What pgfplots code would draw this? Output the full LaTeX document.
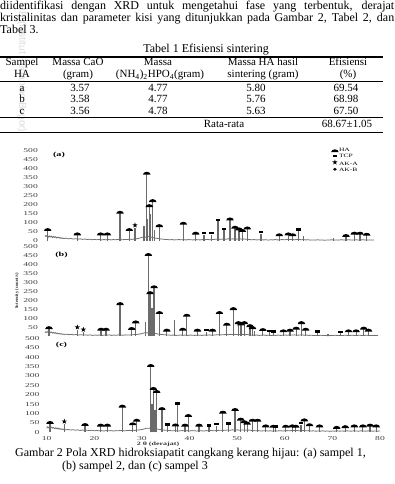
\documentclass[border=0pt]{standalone}
\usepackage{pgfplots}
\pgfplotsset{compat=1.18}
\usepackage{fontspec}
\setmainfont{Liberation Serif}
\setsansfont{Liberation Sans}
\usepackage{graphicx}

\newcommand{\body}{\fontsize{12bp}{14bp}\selectfont}
\newcommand{\tbl}{\fontsize{11bp}{13bp}\selectfont}
\newcommand{\tickfont}{\fontsize{6bp}{6bp}\selectfont}
\newcommand{\sx}[1]{\scalebox{1.6}[1]{#1}}

\pgfdeclareplotmark{dome}{%
  \pgfpathmoveto{\pgfpoint{-3.8bp}{-0.6bp}}%
  \pgfpatharc{180}{0}{3.8bp and 2.9bp}%
  \pgfpathclose
  \pgfusepathqfill}
\pgfdeclareplotmark{tcp}{%
  \pgfpathrectangle{\pgfpoint{-2.4bp}{0.4bp}}{\pgfpoint{4.8bp}{2.4bp}}%
  \pgfusepathqfill}
\pgfdeclareplotmark{akastar}{%
  \pgfpathmoveto{\pgfpoint{0bp}{5.6bp}}%
  \pgfpathlineto{\pgfpoint{-0.65bp}{3.69bp}}%
  \pgfpathlineto{\pgfpoint{-2.66bp}{3.67bp}}%
  \pgfpathlineto{\pgfpoint{-1.05bp}{2.46bp}}%
  \pgfpathlineto{\pgfpoint{-1.65bp}{0.54bp}}%
  \pgfpathlineto{\pgfpoint{0bp}{1.7bp}}%
  \pgfpathlineto{\pgfpoint{1.65bp}{0.54bp}}%
  \pgfpathlineto{\pgfpoint{1.05bp}{2.46bp}}%
  \pgfpathlineto{\pgfpoint{2.66bp}{3.67bp}}%
  \pgfpathlineto{\pgfpoint{0.65bp}{3.69bp}}%
  \pgfpathclose
  \pgfusepathqfill}
\pgfdeclareplotmark{akb}{%
  \pgfpathellipse{\pgfpoint{0bp}{1.5bp}}{\pgfpoint{1.9bp}{0bp}}{\pgfpoint{0bp}{1.5bp}}%
  \pgfusepathqfill}

\pgfplotsset{
  xrd/.style={
    scale only axis, enlargelimits=false, clip=false,
    xmin=10, xmax=80, ymin=0, ymax=500,
    axis line style={draw=none}, major tick length=0pt,
    xtick=\empty, ytick={0,50,...,500},
    yticklabel style={font=\tickfont, text=black!75, anchor=east, inner sep=0pt, xshift=-7bp},
    yticklabel={\sx{\pgfmathprintnumber[fixed,precision=0,assume math mode=true]{\tick}}},
    anchor=south west,
  },
  base/.style={black!55, line width=0.8bp, no marks, forget plot},
  spk/.style={ycomb, black!58, line width=1.2bp, no marks, forget plot},
}

\begin{document}
\begin{tikzpicture}
\begin{scope}[x=1bp,y=-1bp]
\fill[white] (0,0) rectangle (394,484);
\path[use as bounding box] (0,0) rectangle (394,484);
% watermark
\node[rotate=-90, anchor=west, text=black!14, font=\sffamily\fontsize{10bp}{10bp}\selectfont, inner sep=0pt] at (22,2) {IPB (Institut Pertanian Bogor)};
% paragraph
\node[anchor=base west, inner sep=0pt, font=\body] at (0,9.5) {\makebox[394bp][s]{diidentifikasi dengan XRD untuk mengetahui fase yang terbentuk, derajat}};
\node[anchor=base west, inner sep=0pt, font=\body] at (0,22) {\makebox[394bp][s]{kristalinitas dan parameter kisi yang ditunjukkan pada Gambar 2, Tabel 2, dan}};
\node[anchor=base west, inner sep=0pt, font=\body] at (0,33.8) {Tabel 3.};
% table
\node[anchor=base, inner sep=0pt, font=\body] at (206,53) {Tabel 1 Efisiensi sintering};
\draw[line width=1.1bp] (0,57) -- (383,57);
\draw[line width=0.6bp] (0,81.7) -- (383,81.7);
\draw[line width=0.6bp] (0,117.7) -- (383,117.7);
\draw[line width=1.1bp] (0,132.3) -- (383,132.3);
\begin{scope}[every node/.style={anchor=base, inner sep=0pt, font=\tbl}]
\node at (22,66) {Sampel};
\node at (78,66) {Massa CaO};
\node at (158,66) {Massa};
\node at (263,66) {Massa HA hasil};
\node at (348,66) {Efisiensi};
\node at (22,77.5) {HA};
\node at (78,77.5) {(gram)};
\node at (160,77.5) {(NH\textsubscript{4})\textsubscript{2}HPO\textsubscript{4}(gram)};
\node at (263,77.5) {sintering (gram)};
\node at (348,77.5) {(\%)};
\node at (22,91.3) {a}; \node at (80,91.3) {3.57}; \node at (158,91.3) {4.77}; \node at (256,91.3) {5.80}; \node at (346,91.3) {69.54};
\node at (22,102.9) {b}; \node at (80,102.9) {3.58}; \node at (158,102.9) {4.77}; \node at (256,102.9) {5.76}; \node at (346,102.9) {68.98};
\node at (22,114.6) {c}; \node at (80,114.6) {3.56}; \node at (158,114.6) {4.78}; \node at (256,114.6) {5.63}; \node at (346,114.6) {67.50};
\node at (224,128) {Rata-rata}; \node at (347,128) {68.67±1.05};
\end{scope}
% caption
\node[anchor=base west, inner sep=0pt, font=\body] at (15,456.7) {Gambar 2 Pola XRD hidroksiapatit cangkang kerang hijau: (a) sampel 1,};
\node[anchor=base west, inner sep=0pt, font=\body] at (62,469) {(b) sampel 2, dan (c) sampel 3};
% chart labels
\node[font=\bfseries\fontsize{6.3bp}{6.3bp}\selectfont, inner sep=0pt] at (59,155) {\sx{(a)}};
\node[font=\bfseries\fontsize{6.3bp}{6.3bp}\selectfont, inner sep=0pt] at (61.5,255) {\sx{(b)}};
\node[font=\bfseries\fontsize{6.3bp}{6.3bp}\selectfont, inner sep=0pt] at (61.5,345) {\sx{(c)}};
\node[rotate=90, font=\bfseries\fontsize{4.6bp}{4.6bp}\selectfont, inner sep=0pt, text=black!80] at (17,291) {Intensity (count/s)};
\node[font=\bfseries\fontsize{5bp}{5bp}\selectfont, inner sep=0pt, text=black!80] at (158,444) {\sx{2 θ (derajat)}};
\end{scope}

% ---------------- panel (a) ----------------
\begin{axis}[xrd, at={(45bp,-241bp)}, width=329bp, height=90bp,
  legend style={at={(0.869,1.035)}, anchor=north west, draw=none, fill=none,
    font=\fontsize{5bp}{5bp}\selectfont, inner sep=0pt, row sep=1.6bp,
    nodes={inner sep=0.3bp, text height=3.5bp, text depth=0bp}},
  legend cell align=left,
  legend image code/.code={\draw[#1] plot coordinates {(0bp,-1.5bp)};}]
\addplot[base] coordinates {(10.0,24)(10.2,31)(10.4,25)(10.6,29)(10.8,21)(11.0,28)(11.2,22)(11.4,27)(11.6,19)(11.8,25)(12.0,20)(12.2,24)(12.4,17)(12.6,22)(12.8,18)(13.0,21)(13.2,15)(13.4,19)(13.6,14)(13.8,17)(14.0,13)(14.5,16)(15.0,12)(15.5,14)(16.0,11)(16.5,13)(17.0,10)(17.5,12)(18.0,9)(18.5,11)(19.0,8)(19.5,10)(20.0,7)(20.5,9)(21.0,7)(21.5,9)(22.0,6)(22.5,8)(23.0,7)(23.5,9)(24.0,6)(24.5,8)(25.0,7)(25.5,9)(26.0,8)(26.5,7)(27.0,9)(27.5,8)(28.0,10)(28.5,9)(29.0,11)(29.5,12)(30.0,15)(30.5,19)(31.0,23)(31.5,21)(32.0,26)(32.5,22)(33.0,19)(33.5,16)(34.0,14)(34.5,12)(35.0,10)(35.5,9)(36.0,8)(36.5,7)(37.0,8)(37.5,6)(38.0,7)(38.5,8)(39.0,7)(39.5,8)(40.0,6)(40.5,8)(41.0,7)(41.5,6)(42.0,8)(42.5,7)(43.0,6)(43.5,8)(44.0,7)(44.5,9)(45.0,7)(45.5,8)(46.0,9)(46.5,10)(47.0,9)(47.5,10)(48.0,11)(48.5,10)(49.0,12)(49.5,11)(50.0,12)(50.5,10)(51.0,11)(51.5,12)(52.0,10)(52.5,11)(53.0,9)(53.5,8)(54.0,7)(54.5,8)(55.0,6)(55.5,7)(56.0,8)(56.5,6)(57.0,7)(57.5,5)(58.0,7)(58.5,6)(59.0,8)(59.5,6)(60.0,7)(60.5,8)(61.0,7)(61.5,9)(62.0,8)(62.5,9)(63.0,7)(63.5,8)(64.0,9)(64.5,7)(65.0,8)(65.5,6)(66.0,7)(66.5,5)(67.0,6)(67.5,5)(68.0,7)(68.5,5)(69.0,6)(69.5,4)(70.0,6)(70.5,5)(71.0,7)(71.5,5)(72.0,6)(72.5,5)(73.0,7)(73.5,6)(74.0,5)(74.5,7)(75.0,6)(75.5,5)(76.0,7)(76.5,6)(77.0,5)(77.5,7)(78.0,6)(78.5,5)(79.0,6)(79.5,5)(80.0,6)};
\addplot[spk] coordinates {(10.57,59)(16.87,35)(21.85,35)(23.26,35)(25.96,155)(27.94,59)(29.15,72)(31.06,83)(31.64,372)(31.85,120)(32.19,192)(32.5,150)(32.91,220)(33.3,60)(34.32,81)(39.43,94)(42.06,39)(43.83,35)(45.38,35)(46.81,109)(48.09,59)(49.36,118)(50.43,72)(51.28,63)(51.98,54)(53.04,68)(55.96,41)(59.85,30)(61.77,35)(62.70,30)(63.98,54)(64.96,26)(71.34,17)(74.04,26)(75.81,39)(77.02,39)(78.45,33)};
\addplot[only marks, mark=dome, black] coordinates {(10.57,59)(16.87,35)(21.85,35)(23.26,35)(25.96,155)(27.94,59)(31.64,372)(32.19,192)(32.91,220)(34.32,81)(39.43,94)(42.06,39)(49.36,118)(50.43,72)(51.28,63)(51.98,54)(53.04,68)(59.85,30)(61.77,35)(62.70,30)(74.04,26)(75.81,39)(77.02,39)(78.45,33)};
\addplot[only marks, mark=tcp, black] coordinates {(43.83,35)(45.38,35)(46.81,109)(48.09,59)(55.96,41)(63.98,54)};
\addplot[only marks, mark=akastar, black] coordinates {(29.15,72)};
\addlegendimage{only marks, mark=akb, black}
\legend{\scalebox{1.5}[1]{HA},\scalebox{1.5}[1]{TCP},\scalebox{1.5}[1]{AK-A},\scalebox{1.5}[1]{AK-B}}
\end{axis}

% ---------------- panel (b) ----------------
\begin{axis}[xrd, at={(45bp,-336.3bp)}, width=333bp, height=89.6bp, ytick={50,100,...,500}]
\addplot[base] coordinates {(10.0,20)(10.2,26)(10.4,21)(10.6,27)(10.8,22)(11.0,26)(11.2,20)(11.4,24)(11.6,18)(11.8,22)(12.0,17)(12.2,20)(12.4,15)(12.6,18)(12.8,14)(13.0,16)(13.2,12)(13.4,15)(13.6,11)(13.8,13)(14.0,10)(14.5,12)(15.0,9)(15.5,11)(16.0,8)(16.5,10)(17.0,7)(17.5,9)(18.0,7)(18.5,8)(19.0,6)(19.5,8)(20.0,5)(20.5,7)(21.0,6)(21.5,7)(22.0,5)(22.5,7)(23.0,6)(23.5,8)(24.0,5)(24.5,7)(25.0,6)(25.5,8)(26.0,7)(26.5,6)(27.0,8)(27.5,7)(28.0,8)(28.5,9)(29.0,10)(29.5,11)(30.0,13)(30.5,16)(31.0,20)(31.5,19)(32.0,22)(32.5,20)(33.0,17)(33.5,14)(34.0,12)(34.5,10)(35.0,9)(35.5,8)(36.0,7)(36.5,6)(37.0,7)(37.5,5)(38.0,6)(38.5,7)(39.0,6)(39.5,7)(40.0,5)(40.5,7)(41.0,6)(41.5,5)(42.0,7)(42.5,6)(43.0,5)(43.5,7)(44.0,6)(44.5,8)(45.0,6)(45.5,7)(46.0,8)(46.5,9)(47.0,8)(47.5,9)(48.0,10)(48.5,9)(49.0,11)(49.5,10)(50.0,11)(50.5,9)(51.0,10)(51.5,11)(52.0,9)(52.5,10)(53.0,8)(53.5,7)(54.0,6)(54.5,7)(55.0,5)(55.5,6)(56.0,7)(56.5,5)(57.0,6)(57.5,4)(58.0,6)(58.5,5)(59.0,7)(59.5,5)(60.0,6)(60.5,7)(61.0,6)(61.5,8)(62.0,7)(62.5,8)(63.0,6)(63.5,7)(64.0,8)(64.5,6)(65.0,7)(65.5,5)(66.0,6)(66.5,4)(67.0,5)(67.5,4)(68.0,6)(68.5,4)(69.0,5)(69.5,3)(70.0,5)(70.5,4)(71.0,6)(71.5,4)(72.0,5)(72.5,4)(73.0,6)(73.5,5)(74.0,4)(74.5,6)(75.0,5)(75.5,4)(76.0,6)(76.5,5)(77.0,4)(77.5,6)(78.0,5)(78.5,4)(79.0,5)(79.5,4)(80.0,5)};
\addplot[spk] coordinates {(10.84,44)(16.8,35)(18.06,22)(21.78,35)(22.83,35)(25.78,178)(28.23,39)(29.07,76)(31.2,80)(31.73,452)(32.09,239)(32.5,160)(32.93,272)(34.05,128)(35.6,30)(37.2,91)(38.96,35)(39.8,113)(42.04,30)(43.87,25)(45.2,30)(46.67,128)(48.22,63)(49.6,150)(50.67,72)(51.2,65)(51.9,72)(53.1,55)(53.6,44)(54.0,30)(55.8,33)(57.2,22)(58.0,18)(60.1,26)(61.5,30)(62.8,41)(63.9,72)(64.8,35)(67.2,18)(69.5,12)(72.1,16)(73.8,26)(75.4,26)(77.0,41)(78.0,30)};
\addplot[only marks, mark=dome, black] coordinates {(10.84,44)(21.78,35)(22.83,35)(25.78,178)(28.23,39)(29.07,76)(31.73,452)(32.09,239)(32.93,272)(34.05,128)(35.6,30)(38.96,35)(39.8,113)(42.04,30)(45.2,30)(46.67,128)(48.22,63)(49.6,150)(50.67,72)(51.2,65)(51.9,72)(53.1,55)(53.6,44)(55.8,33)(60.1,26)(61.5,30)(62.8,41)(63.9,72)(64.8,35)(73.8,26)(75.4,26)(77.0,41)(78.0,30)};
\addplot[only marks, mark=tcp, black] coordinates {(43.87,25)(57.2,22)(58.0,18)(67.2,18)(72.1,16)};
\addplot[only marks, mark=akastar, black] coordinates {(16.8,35)(18.06,22)};
\end{axis}

% ---------------- panel (c) ----------------
\begin{axis}[xrd, at={(46.7bp,-432.3bp)}, width=333.3bp, height=94bp,
  xtick={10,20,...,80},
  xticklabel style={font=\tickfont, text=black!75, anchor=north, inner sep=0pt, yshift=-3.5bp},
  xticklabel={\sx{\pgfmathprintnumber[fixed,precision=0,assume math mode=true]{\tick}}}]
\addplot[base] coordinates {(10.0,22)(10.2,29)(10.4,24)(10.6,30)(10.8,25)(11.0,28)(11.2,22)(11.4,26)(11.6,20)(11.8,24)(12.0,19)(12.2,23)(12.4,18)(12.6,21)(12.8,16)(13.0,19)(13.2,15)(13.4,18)(13.6,14)(13.8,16)(14.0,13)(14.5,15)(15.0,12)(15.5,14)(16.0,11)(16.5,13)(17.0,10)(17.5,12)(18.0,10)(18.5,11)(19.0,9)(19.5,11)(20.0,8)(20.5,10)(21.0,8)(21.5,9)(22.0,7)(22.5,9)(23.0,8)(23.5,9)(24.0,7)(24.5,9)(25.0,8)(25.5,10)(26.0,9)(26.5,8)(27.0,10)(27.5,9)(28.0,11)(28.5,10)(29.0,12)(29.5,13)(30.0,15)(30.5,18)(31.0,22)(31.5,21)(32.0,25)(32.5,22)(33.0,19)(33.5,16)(34.0,14)(34.5,12)(35.0,11)(35.5,10)(36.0,9)(36.5,8)(37.0,9)(37.5,7)(38.0,8)(38.5,9)(39.0,8)(39.5,9)(40.0,7)(40.5,9)(41.0,8)(41.5,7)(42.0,9)(42.5,8)(43.0,7)(43.5,9)(44.0,8)(44.5,10)(45.0,8)(45.5,9)(46.0,10)(46.5,11)(47.0,10)(47.5,11)(48.0,12)(48.5,11)(49.0,13)(49.5,12)(50.0,13)(50.5,11)(51.0,12)(51.5,13)(52.0,11)(52.5,12)(53.0,10)(53.5,9)(54.0,8)(54.5,9)(55.0,7)(55.5,8)(56.0,9)(56.5,7)(57.0,8)(57.5,6)(58.0,8)(58.5,7)(59.0,9)(59.5,7)(60.0,8)(60.5,9)(61.0,8)(61.5,10)(62.0,9)(62.5,10)(63.0,8)(63.5,9)(64.0,10)(64.5,8)(65.0,9)(65.5,7)(66.0,8)(66.5,6)(67.0,7)(67.5,6)(68.0,8)(68.5,6)(69.0,7)(69.5,5)(70.0,7)(70.5,6)(71.0,8)(71.5,6)(72.0,7)(72.5,6)(73.0,8)(73.5,7)(74.0,6)(74.5,8)(75.0,7)(75.5,6)(76.0,8)(76.5,7)(77.0,6)(77.5,8)(78.0,7)(78.5,6)(79.0,7)(79.5,6)(80.0,7)};
\addplot[spk] coordinates {(10.7,48)(13.7,43)(18.05,37)(21.34,34)(22.74,34)(25.89,135)(28.06,41)(28.9,60)(31.85,351)(32.1,150)(32.4,229)(32.75,120)(33.1,213)(34.2,122)(35.4,34)(37.05,35)(37.4,145)(39.05,34)(39.75,85)(42.0,34)(44.1,28)(45.6,35)(47.0,103)(48.15,39)(49.56,117)(50.75,66)(51.5,52)(52.1,44)(53.2,60)(54.3,60)(56.0,30)(57.6,28)(58.0,22)(60.2,28)(61.6,30)(62.3,28)(63.4,40)(64.1,62)(65.2,36)(67.3,30)(70.9,22)(72.7,26)(74.6,30)(76.4,30)(77.9,34)(79.2,30)};
\addplot[only marks, mark=dome, black] coordinates {(10.7,48)(18.05,37)(21.34,34)(22.74,34)(25.89,135)(28.06,41)(28.9,60)(31.85,351)(32.4,229)(33.1,213)(34.2,122)(37.05,35)(39.05,34)(39.75,85)(42.0,34)(47.0,103)(49.56,117)(50.75,66)(51.5,52)(52.1,44)(53.2,60)(54.3,60)(56.0,30)(57.6,28)(60.2,28)(61.6,30)(62.3,28)(64.1,62)(65.2,36)(67.3,30)(70.9,22)(72.7,26)(74.6,30)(76.4,30)(77.9,34)(79.2,30)};
\addplot[only marks, mark=tcp, black] coordinates {(35.4,34)(37.4,145)(44.1,28)(45.6,35)(48.15,39)(58.0,22)(63.4,40)};
\addplot[only marks, mark=akastar, black] coordinates {(13.7,43)};
\end{axis}
\end{tikzpicture}
\end{document}
